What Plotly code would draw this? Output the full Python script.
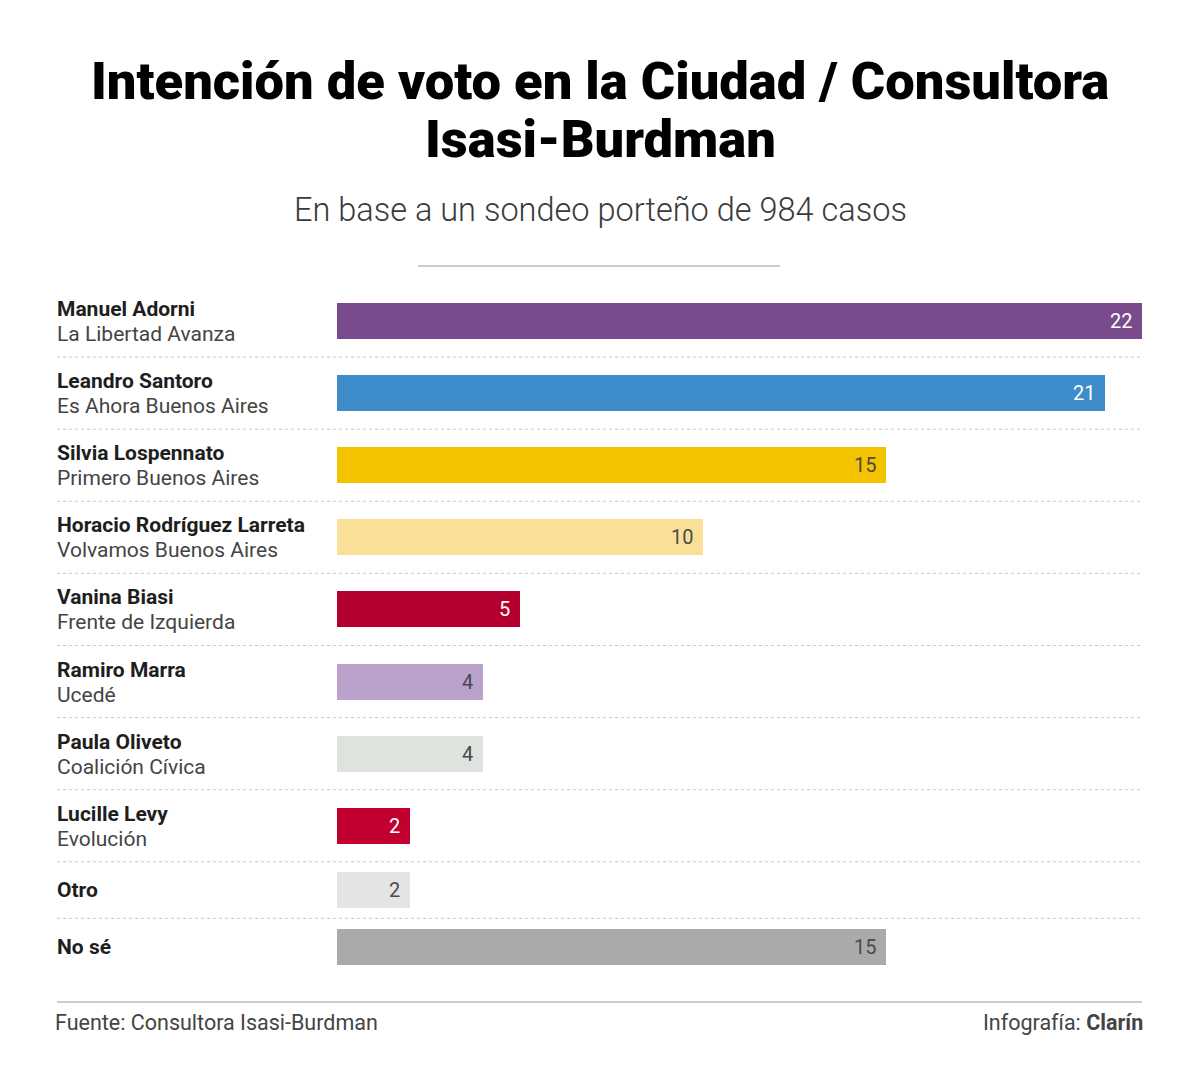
import plotly.graph_objects as go

W, H = 1200, 1076

names = ["Manuel Adorni", "Leandro Santoro", "Silvia Lospennato", "Horacio Rodríguez Larreta",
         "Vanina Biasi", "Ramiro Marra", "Paula Oliveto", "Lucille Levy", "Otro", "No sé"]
parties = ["La Libertad Avanza", "Es Ahora Buenos Aires", "Primero Buenos Aires", "Volvamos Buenos Aires",
           "Frente de Izquierda", "Ucedé", "Coalición Cívica", "Evolución", "", ""]
values = [22, 21, 15, 10, 5, 4, 4, 2, 2, 15]
bar_colors = ["#7a4b8c", "#3e8cc9", "#f4c300", "#fadf96", "#b5002f",
              "#b9a2cb", "#dfe3dd", "#c2002f", "#e4e4e4", "#aaaaaa"]
text_colors = ["#ffffff", "#ffffff", "#4a4a4a", "#4a4a4a", "#ffffff",
               "#4a4a4a", "#4a4a4a", "#ffffff", "#4a4a4a", "#4a4a4a"]

title_lines = ["Intención de voto en la Ciudad / Consultora", "Isasi-Burdman"]
subtitle_text = "En base a un sondeo porteño de 984 casos"
source_text = "Fuente: Consultora Isasi-Burdman"
credit_text = "Infografía: <b>Clarín</b>"

# layout (pixels)
PLOT_TOP, LEFT_LABEL, BAR_X0, BAR_X1 = 285, 57, 337, 1142
ROW_H = {2: 72.1, 1: 56.5}
BAR_W = 36

def px(x):
    return x / W

def py(y):
    return 1 - y / H

# row positions
starts, centers, heights = [], [], []
cur = 0
for p in parties:
    h = ROW_H[2 if p else 1]
    starts.append(cur)
    centers.append(cur + h / 2)
    heights.append(h)
    cur += h
total = cur

fig = go.Figure()
fig.add_trace(go.Bar(
    x=values, y=centers, orientation="h",
    marker=dict(color=bar_colors, line=dict(width=0)),
    width=BAR_W, hoverinfo="skip",
))

LBL = 21
ann = []
for i, (n, p, v) in enumerate(zip(names, parties, values)):
    c = centers[i]
    if p:
        ann.append(dict(x=px(LEFT_LABEL - 2), y=c - 12, xref="paper", yref="y", text=f"<b>{n}</b>",
                        xanchor="left", yanchor="middle", showarrow=False,
                        font=dict(family="Roboto", size=LBL, color="#1e1e1e")))
        ann.append(dict(x=px(LEFT_LABEL - 2), y=c + 13, xref="paper", yref="y", text=p,
                        xanchor="left", yanchor="middle", showarrow=False,
                        font=dict(family="Roboto", size=LBL, color="#444444")))
    else:
        ann.append(dict(x=px(LEFT_LABEL - 2), y=c, xref="paper", yref="y", text=f"<b>{n}</b>",
                        xanchor="left", yanchor="middle", showarrow=False,
                        font=dict(family="Roboto", size=LBL, color="#1e1e1e")))
    ann.append(dict(x=v, y=c, xref="x", yref="y", text=str(v), xanchor="right", yanchor="middle",
                    xshift=-8, showarrow=False,
                    font=dict(family="Roboto", size=20, color=text_colors[i])))

for line, yc in zip(title_lines, [81, 139]):
    ann.append(dict(x=0.5, y=py(yc), xref="paper", yref="paper", text=line,
                    xanchor="center", yanchor="middle", showarrow=False,
                    font=dict(family="Roboto", size=52.5, color="#000000", weight=900)))
ann.append(dict(x=0.5, y=py(210), xref="paper", yref="paper", text=subtitle_text,
                xanchor="center", yanchor="middle", showarrow=False,
                font=dict(family="Roboto", size=32.5, color="#3a3a3a", weight=300)))
ann.append(dict(x=px(53), y=py(1022), xref="paper", yref="paper", text=source_text,
                xanchor="left", yanchor="middle", showarrow=False,
                font=dict(family="Roboto", size=21.5, color="#444444")))
ann.append(dict(x=px(1145), y=py(1022), xref="paper", yref="paper", text=credit_text,
                xanchor="right", yanchor="middle", showarrow=False,
                font=dict(family="Roboto", size=21.5, color="#444444")))

shapes = []
for i in range(1, len(names)):
    shapes.append(dict(type="line", xref="paper", yref="y", x0=px(LEFT_LABEL), x1=px(BAR_X1),
                       y0=starts[i], y1=starts[i], line=dict(color="#c8c8c8", width=1, dash="dot")))
shapes.append(dict(type="line", xref="paper", yref="paper", x0=px(418), x1=px(780),
                   y0=py(266), y1=py(266), line=dict(color="#cccccc", width=2)))
shapes.append(dict(type="line", xref="paper", yref="paper", x0=px(LEFT_LABEL), x1=px(BAR_X1),
                   y0=py(1002), y1=py(1002), line=dict(color="#cccccc", width=2)))

plot_bottom = PLOT_TOP + total
fig.update_layout(
    width=W, height=H, margin=dict(l=0, r=0, t=0, b=0),
    paper_bgcolor="#ffffff", plot_bgcolor="#ffffff",
    showlegend=False, bargap=0,
    xaxis=dict(domain=[px(BAR_X0), px(BAR_X1)], range=[0, max(values)], visible=False, fixedrange=True),
    yaxis=dict(domain=[py(plot_bottom), py(PLOT_TOP)], range=[total, 0], visible=False, fixedrange=True),
    annotations=ann, shapes=shapes,
)

fig.write_html("out.html", config={"displayModeBar": False})
